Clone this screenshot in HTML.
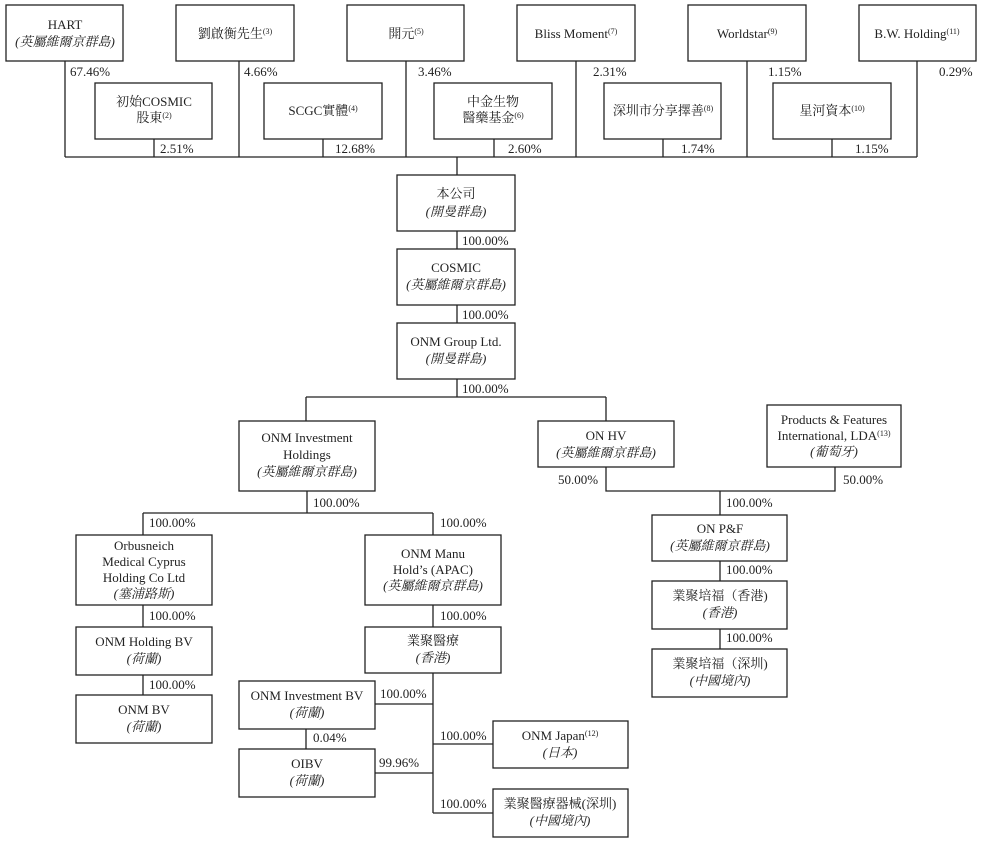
<!DOCTYPE html>
<html><head><meta charset="utf-8"><style>
body{margin:0;background:#fff}
svg{display:block}
text{font-family:"Liberation Serif","Noto Serif CJK SC","Noto Sans CJK TC",serif;font-size:13px;fill:#222}
.i{font-style:italic}
.m{text-anchor:middle}
.s{font-size:8px}
rect{fill:#fff;stroke:#222;stroke-width:1.3}
path{fill:none;stroke:#222;stroke-width:1.3}
</style></head><body>
<svg width="985" height="841" viewBox="0 0 985 841">
<!-- top connectors -->
<path d="M65 61V157M239 61V157M406 61V157M576 61V157M747 61V157M917 61V157M65 157H917M154 139V157M323 139V157M494 139V157M663 139V157M832 139V157M457 157V175"/>
<rect x="6" y="5" width="117" height="56"/>
<text class="m" x="65" y="29">HART</text><text class="m i" x="65" y="46">(英屬維爾京群島)</text>
<rect x="176" y="5" width="118" height="56"/>
<text class="m" x="235" y="38">劉啟衡先生<tspan class="s" dy="-4">(3)</tspan></text>
<rect x="347" y="5" width="117" height="56"/>
<text class="m" x="406" y="38">開元<tspan class="s" dy="-4">(5)</tspan></text>
<rect x="517" y="5" width="118" height="56"/>
<text class="m" x="576" y="38">Bliss Moment<tspan class="s" dy="-4">(7)</tspan></text>
<rect x="688" y="5" width="118" height="56"/>
<text class="m" x="747" y="38">Worldstar<tspan class="s" dy="-4">(9)</tspan></text>
<rect x="859" y="5" width="117" height="56"/>
<text class="m" x="917" y="38">B.W. Holding<tspan class="s" dy="-4">(11)</tspan></text>
<text x="70" y="76">67.46%</text><text x="244" y="76">4.66%</text><text x="418" y="76">3.46%</text>
<text x="593" y="76">2.31%</text><text x="768" y="76">1.15%</text><text x="939" y="76">0.29%</text>
<rect x="95" y="83" width="117" height="56"/>
<text class="m" x="154" y="106">初始COSMIC</text><text class="m" x="154" y="122">股東<tspan class="s" dy="-4">(2)</tspan></text>
<rect x="264" y="83" width="118" height="56"/>
<text class="m" x="323" y="115">SCGC實體<tspan class="s" dy="-4">(4)</tspan></text>
<rect x="434" y="83" width="118" height="56"/>
<text class="m" x="493" y="106">中金生物</text><text class="m" x="493" y="122">醫藥基金<tspan class="s" dy="-4">(6)</tspan></text>
<rect x="604" y="83" width="117" height="56"/>
<text class="m" x="663" y="115">深圳市分享擇善<tspan class="s" dy="-4">(8)</tspan></text>
<rect x="773" y="83" width="118" height="56"/>
<text class="m" x="832" y="115">星河資本<tspan class="s" dy="-4">(10)</tspan></text>
<text x="160" y="153">2.51%</text><text x="335" y="153">12.68%</text><text x="508" y="153">2.60%</text>
<text x="681" y="153">1.74%</text><text x="855" y="153">1.15%</text>
<!-- spine -->
<path d="M457 231V249M457 305V323M457 379V397M306 397H606M306 397V421M606 397V421"/>
<rect x="397" y="175" width="118" height="56"/>
<text class="m" x="456" y="198">本公司</text><text class="m i" x="456" y="216">(開曼群島)</text>
<text x="462" y="245">100.00%</text>
<rect x="397" y="249" width="118" height="56"/>
<text class="m" x="456" y="272">COSMIC</text><text class="m i" x="456" y="289">(英屬維爾京群島)</text>
<text x="462" y="319">100.00%</text>
<rect x="397" y="323" width="118" height="56"/>
<text class="m" x="456" y="346">ONM Group Ltd.</text><text class="m i" x="456" y="363">(開曼群島)</text>
<text x="462" y="393">100.00%</text>
<!-- left subtree -->
<path d="M307 491V513M143 513H433M143 513V535M433 513V535M143 605V627M143 675V695M433 605V627M433 673V813M375 704H433M306 729V749M375 773H433M433 744H493M433 813H493"/>
<rect x="239" y="421" width="136" height="70"/>
<text class="m" x="307" y="442">ONM Investment</text><text class="m" x="307" y="459">Holdings</text><text class="m i" x="307" y="476">(英屬維爾京群島)</text>
<text x="313" y="507">100.00%</text>
<text x="149" y="527">100.00%</text><text x="440" y="527">100.00%</text>
<rect x="76" y="535" width="136" height="70"/>
<text class="m" x="144" y="550">Orbusneich</text><text class="m" x="144" y="566">Medical Cyprus</text><text class="m" x="144" y="582">Holding Co Ltd</text><text class="m i" x="144" y="598">(塞浦路斯)</text>
<text x="149" y="620">100.00%</text>
<rect x="76" y="627" width="136" height="48"/>
<text class="m" x="144" y="646">ONM Holding BV</text><text class="m i" x="144" y="663">(荷蘭)</text>
<text x="149" y="689">100.00%</text>
<rect x="76" y="695" width="136" height="48"/>
<text class="m" x="144" y="714">ONM BV</text><text class="m i" x="144" y="731">(荷蘭)</text>
<rect x="365" y="535" width="136" height="70"/>
<text class="m" x="433" y="558">ONM Manu</text><text class="m" x="433" y="574">Hold’s (APAC)</text><text class="m i" x="433" y="590">(英屬維爾京群島)</text>
<text x="440" y="620">100.00%</text>
<rect x="365" y="627" width="136" height="46"/>
<text class="m" x="433" y="645">業聚醫療</text><text class="m i" x="433" y="662">(香港)</text>
<rect x="239" y="681" width="136" height="48"/>
<text class="m" x="307" y="700">ONM Investment BV</text><text class="m i" x="307" y="717">(荷蘭)</text>
<text x="380" y="698">100.00%</text>
<text x="313" y="742">0.04%</text>
<rect x="239" y="749" width="136" height="48"/>
<text class="m" x="307" y="768">OIBV</text><text class="m i" x="307" y="785">(荷蘭)</text>
<text x="379" y="767">99.96%</text>
<text x="440" y="740">100.00%</text><text x="440" y="808">100.00%</text>
<rect x="493" y="721" width="135" height="47"/>
<text class="m" x="560" y="740">ONM Japan<tspan class="s" dy="-4">(12)</tspan></text><text class="m i" x="560" y="757">(日本)</text>
<rect x="493" y="789" width="135" height="48"/>
<text class="m" x="560" y="808">業聚醫療器械(深圳)</text><text class="m i" x="560" y="825">(中國境內)</text>
<!-- right subtree -->
<path d="M606 467V491H835V467M720 491V515M720 561V581M720 629V649"/>
<rect x="538" y="421" width="136" height="46"/>
<text class="m" x="606" y="440">ON HV</text><text class="m i" x="606" y="457">(英屬維爾京群島)</text>
<rect x="767" y="405" width="134" height="62"/>
<text class="m" x="834" y="424">Products &amp; Features</text><text class="m" x="834" y="440">International, LDA<tspan class="s" dy="-4">(13)</tspan></text><text class="m i" x="834" y="456">(葡萄牙)</text>
<text x="558" y="484">50.00%</text><text x="843" y="484">50.00%</text>
<text x="726" y="507">100.00%</text>
<rect x="652" y="515" width="135" height="46"/>
<text class="m" x="720" y="533">ON P&amp;F</text><text class="m i" x="720" y="550">(英屬維爾京群島)</text>
<text x="726" y="574">100.00%</text>
<rect x="652" y="581" width="135" height="48"/>
<text class="m" x="720" y="600">業聚培福（香港)</text><text class="m i" x="720" y="617">(香港)</text>
<text x="726" y="642">100.00%</text>
<rect x="652" y="649" width="135" height="48"/>
<text class="m" x="720" y="668">業聚培福（深圳)</text><text class="m i" x="720" y="685">(中國境內)</text>
</svg>
</body></html>
